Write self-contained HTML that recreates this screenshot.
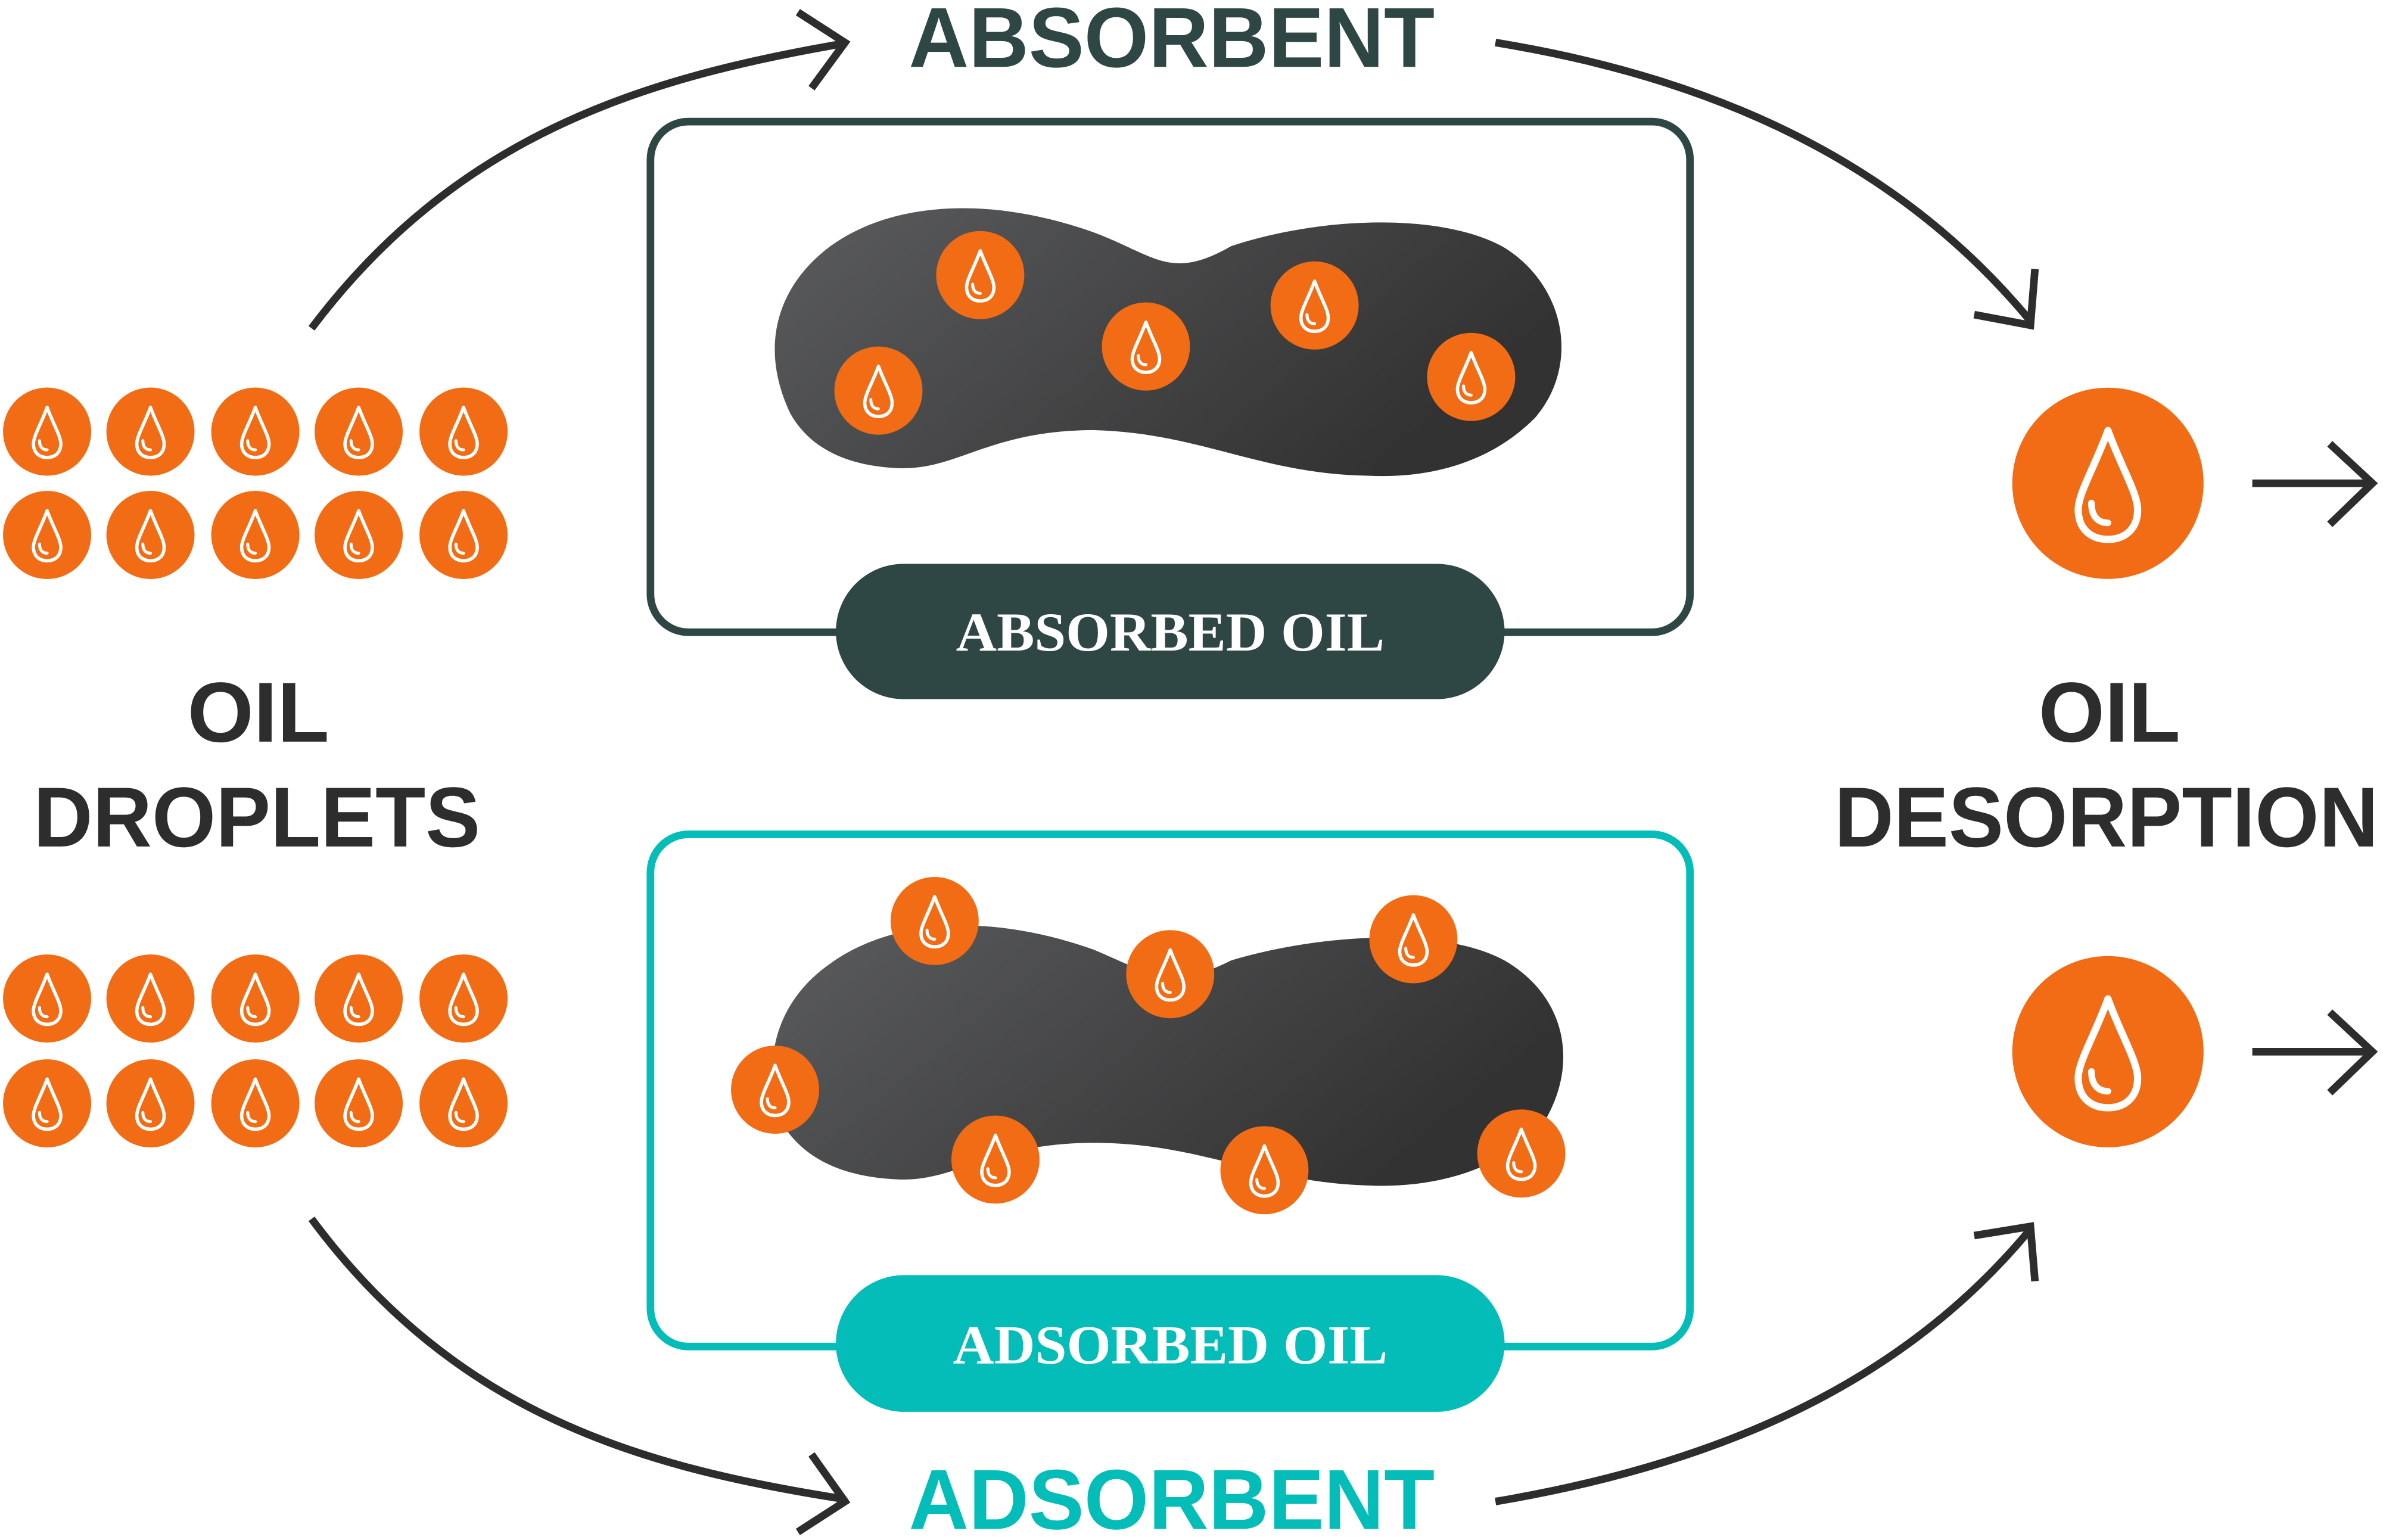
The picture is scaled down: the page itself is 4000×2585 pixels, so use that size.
<!DOCTYPE html>
<html><head><meta charset="utf-8"><style>html,body{margin:0;padding:0;background:#fff}svg{display:block}</style></head>
<body>
<svg width="4000" height="2585" viewBox="0 0 1568 1013.3" xmlns="http://www.w3.org/2000/svg">
<defs>
<linearGradient id="g" x1="0" y1="0" x2="1" y2="0.4">
<stop offset="0" stop-color="#5b5c5e"/><stop offset="1" stop-color="#323232"/></linearGradient>
<g id="d">
<circle r="29" fill="#f26b15"/>
<path d="M0,-16 C-4,-5 -9,3 -9,8 C-9,14 -5,17 0,17 C5,17 9,14 9,8 C9,3 4,-5 0,-16 Z" fill="none" stroke="#fff" stroke-width="2.2" stroke-linejoin="round"/>
<path d="M-5,6 C-5,10 -3,12 0,12" fill="none" stroke="#fff" stroke-width="2" stroke-linecap="round"/>
</g>
</defs>
<g font-family="'Liberation Sans',sans-serif" font-weight="bold">
<text x="598" y="44" font-size="56" fill="#2f4744" textLength="346" lengthAdjust="spacingAndGlyphs">ABSORBENT</text>
<text x="598" y="1006" font-size="56" fill="#04bdb8" textLength="346" lengthAdjust="spacingAndGlyphs">ADSORBENT</text>
<text x="170" y="488" font-size="56" fill="#2d2d2d" text-anchor="middle">OIL</text>
<text x="22" y="557" font-size="56" fill="#2d2d2d" textLength="294" lengthAdjust="spacingAndGlyphs">DROPLETS</text>
<text x="1388" y="488" font-size="56" fill="#2d2d2d" text-anchor="middle">OIL</text>
<text x="1207" y="557" font-size="56" fill="#2d2d2d" textLength="358" lengthAdjust="spacingAndGlyphs">DESORPTION</text>
</g>
<!-- curved arrows -->
<g fill="none" stroke="#2d2d2d" stroke-width="5">
<path d="M205,216 C300,90 420,52 553,29"/>
<path d="M525,8 L556,28 L534,58"/>
<path d="M984,28 C1150,55 1260,120 1335,210"/>
<path d="M1339,177 L1336,214 L1299,207"/>
<path d="M205,802 C300,930 420,965 553,986"/>
<path d="M534,957 L556,988 L525,1008"/>
<path d="M984,988 C1150,960 1260,900 1335,810"/>
<path d="M1299,813 L1336,807 L1339,843"/>
<path d="M1482,318 L1560,318 M1533,292 L1561,318 L1533,345"/>
<path d="M1482,692 L1560,692 M1533,666 L1561,692 L1533,719"/>
</g>
<!-- top box -->
<rect x="428" y="80" width="684" height="336" rx="25" fill="none" stroke="#2f4744" stroke-width="5"/>
<rect x="550" y="371" width="440" height="89" rx="44.5" fill="#2f4744"/>
<text x="770" y="428" font-family="'Liberation Serif',serif" font-weight="bold" font-size="36" fill="#fff" text-anchor="middle" textLength="282" lengthAdjust="spacingAndGlyphs">ABSORBED OIL</text>
<path d="M520,272 C500,230 510,190 545,163 C585,133 650,128 720,153 C760,168 770,185 810,162 C870,142 950,140 990,163 C1030,188 1040,240 1010,275 C980,305 940,315 900,313 C830,312 790,285 720,283 C650,283 630,310 590,308 C550,306 530,290 520,272 Z" fill="url(#g)"/>
<use href="#d" x="645" y="181"/><use href="#d" x="578" y="257"/><use href="#d" x="754" y="228"/><use href="#d" x="865" y="201"/><use href="#d" x="968" y="248"/>
<!-- bottom box -->
<rect x="428" y="549" width="684" height="337" rx="25" fill="none" stroke="#04bdb8" stroke-width="5"/>
<rect x="550" y="839" width="440" height="90" rx="45" fill="#04bdb8"/>
<text x="770" y="897" font-family="'Liberation Serif',serif" font-weight="bold" font-size="36" fill="#fff" text-anchor="middle" textLength="286" lengthAdjust="spacingAndGlyphs">ADSORBED OIL</text>
<path d="M515,740 C500,700 510,660 545,635 C585,605 650,600 720,625 C760,642 770,652 810,632 C870,614 950,610 990,632 C1030,655 1040,700 1015,740 C985,772 940,782 900,780 C830,778 790,752 720,752 C650,752 630,778 590,776 C550,774 528,760 515,740 Z" fill="url(#g)"/>
<use href="#d" x="615" y="606"/><use href="#d" x="510" y="717"/><use href="#d" x="770" y="641"/><use href="#d" x="930" y="618"/><use href="#d" x="655" y="763"/><use href="#d" x="832" y="770"/><use href="#d" x="1001" y="759"/>
<!-- left droplets -->
<g>
<use href="#d" x="31" y="284"/><use href="#d" x="99" y="284"/><use href="#d" x="168" y="284"/><use href="#d" x="236" y="284"/><use href="#d" x="305" y="284"/>
<use href="#d" x="31" y="352"/><use href="#d" x="99" y="352"/><use href="#d" x="168" y="352"/><use href="#d" x="236" y="352"/><use href="#d" x="305" y="352"/>
<use href="#d" x="31" y="657"/><use href="#d" x="99" y="657"/><use href="#d" x="168" y="657"/><use href="#d" x="236" y="657"/><use href="#d" x="305" y="657"/>
<use href="#d" x="31" y="726"/><use href="#d" x="99" y="726"/><use href="#d" x="168" y="726"/><use href="#d" x="236" y="726"/><use href="#d" x="305" y="726"/>
</g>
<use href="#d" transform="translate(1387,318) scale(2.17)"/>
<use href="#d" transform="translate(1387,692) scale(2.17)"/>
</svg>
</body></html>
